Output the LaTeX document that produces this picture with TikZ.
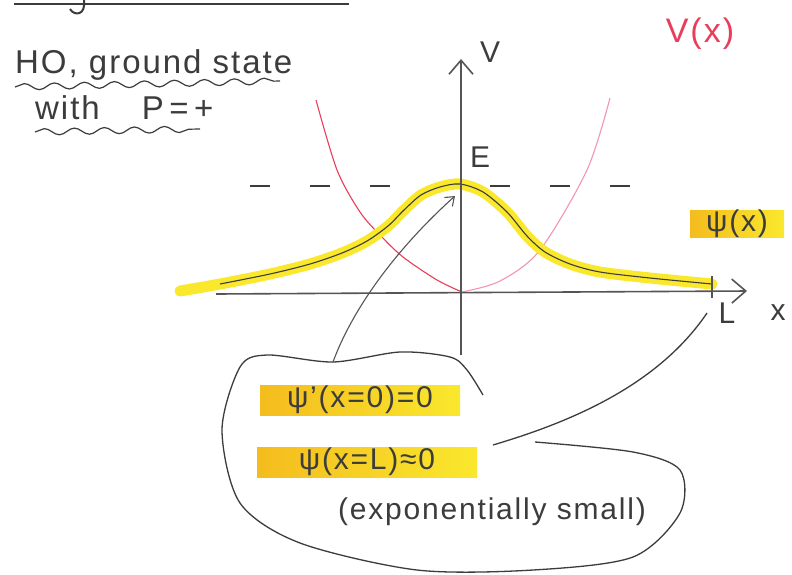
\documentclass[tikz,border=0pt]{standalone}
\usepackage{fontspec}
\setmainfont{Liberation Sans}[LetterSpace=6]
\usepackage{tikz}
\usetikzlibrary{positioning, arrows.meta, decorations.pathmorphing}
\definecolor{ink}{RGB}{60,60,60}
\definecolor{axisgray}{RGB}{85,85,85}
\definecolor{potred}{RGB}{232,62,92}
\definecolor{potpink}{RGB}{242,150,175}
\definecolor{marker}{RGB}{250,232,45}
\definecolor{markerdark}{RGB}{244,188,30}
\tikzset{
  hand/.style={text=ink, inner sep=0pt},
  hl/.style={hand, left color=markerdark, right color=marker},
  axisline/.style={draw=axisgray, line width=1.6pt,
    -{Straight Barb[length=14pt, width=24pt, line width=1.6pt]}},
  wave/.style={draw=ink, line width=1.2pt, decorate,
    decoration={snake, amplitude=3.2pt, segment length=30pt}},
  bubble/.style={draw=ink, line width=1.3pt},
  pointer/.style={draw=axisgray, line width=1.1pt,
    -{Straight Barb[length=8pt, width=12pt]}},
}
\begin{document}
\begin{tikzpicture}[x=1pt, y=-1pt, font=\fontsize{30}{32}\selectfont]
  \useasboundingbox (0,0) rectangle (792,574);
  \fill[white] (0,0) rectangle (792,574);

  % header left over from the page above
  \draw[ink, line width=2.4pt] (14,4) -- (349,4);
  \draw[ink, line width=2pt] (84,0) .. controls (86,16) and (74,16) .. (70,9);

  % title
  \node[hand, font=\fontsize{33}{36}\selectfont, anchor=base west] (title) at (15,73) {HO, ground state};
  \node[hand, font=\fontsize{33}{36}\selectfont, anchor=base west] (parity) at (35,119) {with\hspace{42pt}P\,=\,+};
  \draw[wave] (15,87) -- (280,81);
  \draw[wave] (35,132) -- (200,129);

  % potential
  \draw[potred, line width=1.1pt] plot[smooth] coordinates {(316,100) (337,170) (360,212) (380,235) (403,257) (437,280) (462,292)};
  \draw[potpink, line width=1.1pt] plot[smooth] coordinates {(462,292) (500,281) (540,250) (587,170) (610,98)};
  \node[text=potred, font=\fontsize{34}{36}\selectfont] (Vname) at (700,34) {V(x)};

  % energy level
  \draw[ink, line width=1.4pt, dash pattern=on 20pt off 40pt] (250,186) -- (640,186);

  % wave function
  \draw[marker, line width=11pt, line cap=round] plot[smooth] coordinates {(180,291) (220,284) (270,274) (310,264) (342,253) (367,241) (388,226) (404,210) (421,195) (440,187) (460,184) (483,192) (507,212) (527,236) (545,252) (570,264) (600,272) (650,278) (712,284)};
  \draw[ink, line width=1.1pt] plot[smooth] coordinates {(220,284) (270,274) (310,264) (342,253) (367,241) (388,226) (404,210) (421,195) (440,187) (460,184) (483,192) (507,212) (527,236) (545,252) (570,264) (600,272) (650,278) (712,284)};
  \coordinate (peak) at (455,196);

  % axes
  \draw[axisline] (461,355) -- (461,59);
  \draw[axisline] (216,294) -- (747,291);
  \draw[axisgray, line width=1.6pt] (712,276) -- (712,298);
  \node[hand] (Vaxis) at (490,52) {V};
  \node[hand] (E) at (480,157) {E};
  \node[hand] (L) at (727,313) {L};
  \node[hand] (xaxis) at (778,313) {x};
  \node[hl, minimum width=94pt, minimum height=27pt] (psi) at (737,224) {ψ(x)};
  \coordinate (Ltip) at (707,313);

  % conditions
  \node[hl, minimum width=200pt, minimum height=30pt] (cond1) at (360,400) {ψ'(x=0)=0};
  \node[hl, minimum width=220pt, minimum height=30pt] (cond2) at (367,462) {ψ(x=L)≈0};
  \node[hand] (note) at (492,512) {(exponentially small)};

  % bubble
  \coordinate (bubbletop) at (333,362);
  \coordinate (bubbleedge) at (493,445);
  \draw[bubble] plot[smooth] coordinates {(483,395) (467,370) (450,357) (400,352) (333,362) (267,355) (240,367) (222,430) (240,503) (300,543) (417,570) (533,570) (633,557) (680,513) (680,470) (633,452) (535,442)};
  \draw[pointer] (bubbletop) .. controls (352,310) and (395,250) .. (peak);
  \draw[bubble] (bubbleedge) .. controls (560,425) and (655,390) .. (Ltip);
\end{tikzpicture}
\end{document}
